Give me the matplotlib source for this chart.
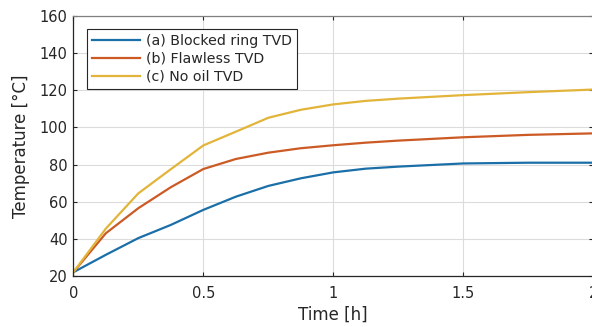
import numpy as np
import matplotlib.pyplot as plt

# heating curves, time in hours
t_h = [0, 0.125, 0.25, 0.375, 0.5, 0.625, 0.75, 0.875, 1.0, 1.125, 1.25, 1.5, 1.75, 2.0]
temp_blocked = [22, 31.4, 40.4, 47.5, 55.6, 62.7, 68.5, 72.6, 75.8, 77.8, 78.9, 80.6, 81.0, 81.0]
temp_flawless = [22, 43.0, 56.5, 67.8, 77.6, 83.0, 86.4, 88.8, 90.4, 91.8, 92.9, 94.7, 96.0, 96.8]
temp_nooil = [22, 45.5, 64.5, 77.5, 90.3, 97.7, 105.2, 109.5, 112.4, 114.3, 115.5, 117.4, 119.0, 120.4]

labels = ['(a) Blocked ring TVD', '(b) Flawless TVD', '(c) No oil TVD']
colors = ['#1b6fa8', '#cc5a25', '#e3b43a']

fig = plt.figure(figsize=(5.92, 3.27), dpi=100, facecolor='white')
ax = fig.add_axes([73.3/592, 51/327, 520/592, 260/327])

for y, lab, c in zip([temp_blocked, temp_flawless, temp_nooil], labels, colors):
    ax.plot(t_h, y, color=c, lw=1.6, label=lab)

ax.set_xlim(0, 2)
ax.set_ylim(20, 160)
ax.set_xticks([0, 0.5, 1, 1.5, 2])
ax.set_xticklabels(['0', '0.5', '1', '1.5', '2'])
ax.set_yticks(np.arange(20, 161, 20))
ax.grid(True, color='#dcdcdc', lw=0.8)
ax.set_axisbelow(True)

for s in ['left', 'bottom']:
    ax.spines[s].set_color('#262626')
for s in ['top', 'right']:
    ax.spines[s].set_color('#808080')
for s in ax.spines.values():
    s.set_linewidth(0.9)

ax.tick_params(direction='in', length=3, width=0.8, colors='#262626',
               labelsize=10.5, top=True, right=True)
ax.tick_params(axis='x', pad=7.5)
ax.tick_params(axis='y', pad=4)
ax.set_xlabel('Time [h]', fontsize=12, color='#262626', labelpad=3)
ax.set_ylabel('Temperature [°C]', fontsize=12, color='#262626', labelpad=7)

leg = ax.legend(loc='upper left', bbox_to_anchor=(0.026, 0.95), borderaxespad=0,
                fancybox=False, framealpha=1, edgecolor='#262626', fontsize=10.2,
                handlelength=3.4, handletextpad=0.4, labelspacing=0.28,
                borderpad=0.35)
leg.get_frame().set_linewidth(0.8)
for txt in leg.get_texts():
    txt.set_color('#262626')

fig.savefig('out.png', dpi=100)
